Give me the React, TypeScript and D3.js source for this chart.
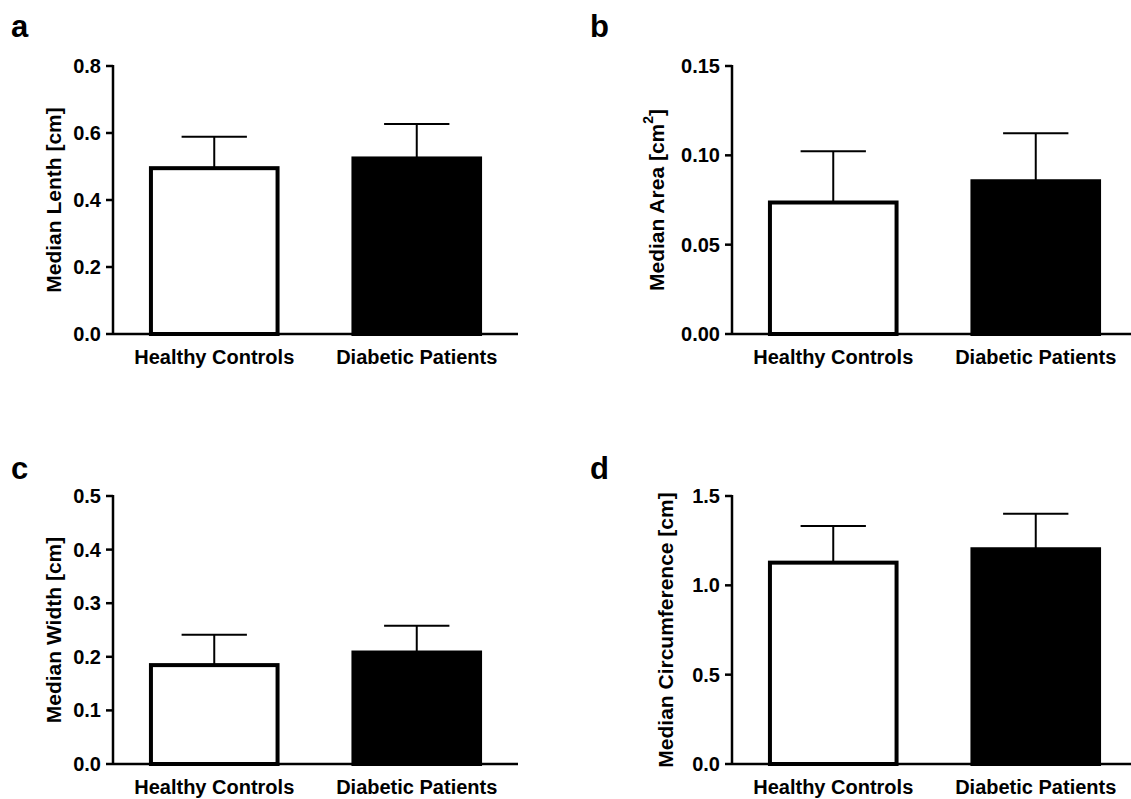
import React from 'react'
import * as d3 from 'd3'

// groups on the x axis
const categories = ['Healthy Controls', 'Diabetic Patients']

// medians and upper error (SD) per panel
const lengthMedian = [0.495, 0.524]
const lengthError = [0.094, 0.103]
const areaMedian = [0.0736, 0.0855]
const areaError = [0.0287, 0.0269]
const widthMedian = [0.1845, 0.208]
const widthError = [0.0565, 0.05]
const circMedian = [1.127, 1.202]
const circError = [0.205, 0.199]

// y ticks
const lengthTicks = [0, 0.2, 0.4, 0.6, 0.8]
const areaTicks = [0, 0.05, 0.1, 0.15]
const widthTicks = [0, 0.1, 0.2, 0.3, 0.4, 0.5]
const circTicks = [0, 0.5, 1.0, 1.5]

const FONT = '"Liberation Sans", Arial, Helvetica, sans-serif'

type PanelProps = {
  letter: string
  letterX: number
  letterY: number
  ox: number
  oy: number
  medians: number[]
  errors: number[]
  ticks: number[]
  fmt: string
  title: React.ReactNode
  titleOffset: number
}

const Panel = ({letter, letterX, letterY, ox, oy, medians, errors, ticks, fmt, title, titleOffset}: PanelProps) => {
  // helper sizes
  const left = ox + 113
  const right = ox + 518
  const top = oy + 66
  const bottom = oy + 334

  const y = d3
    .scaleLinear()
    .domain([0, ticks[ticks.length - 1]])
    .range([bottom, top])
  const x = d3
    .scalePoint<string>()
    .domain(categories)
    .range([left, right])
    .padding(0.5)
  const barW = x.step() * 0.645
  const format = d3.format(fmt)

  return (
    <g>
      <text x={letterX} y={letterY} fontSize={31} fontWeight="bold" fontFamily={FONT}>
        {letter}
      </text>

      {/* bars */}
      {categories.map((c, i) => {
        const cx = x(c) as number
        const yTop = y(medians[i])
        const yErr = y(medians[i] + errors[i])
        const filled = i === 1
        return (
          <g key={c}>
            <line x1={cx} x2={cx} y1={yTop} y2={yErr} stroke="#000" strokeWidth={2} />
            <line
              x1={cx - barW / 4}
              x2={cx + barW / 4}
              y1={yErr}
              y2={yErr}
              stroke="#000"
              strokeWidth={2}
            />
            <rect
              x={cx - barW / 2 + 2}
              y={yTop}
              width={barW - 4}
              height={bottom - yTop}
              fill={filled ? '#000' : '#fff'}
              stroke="#000"
              strokeWidth={4}
            />
          </g>
        )
      })}

      {/* y axis */}
      <line x1={left} x2={left} y1={top - 1} y2={bottom} stroke="#000" strokeWidth={2.5} />
      {ticks.map(t => (
        <g key={t}>
          <line x1={left - 7} x2={left} y1={y(t)} y2={y(t)} stroke="#000" strokeWidth={2.5} />
          <text
            x={left - 12}
            y={y(t)}
            textAnchor="end"
            dominantBaseline="central"
            fontSize={20}
            fontWeight="bold"
            fontFamily={FONT}
          >
            {format(t)}
          </text>
        </g>
      ))}

      {/* x axis */}
      <line x1={left} x2={right} y1={bottom} y2={bottom} stroke="#000" strokeWidth={2.5} />
      {categories.map(c => (
        <text
          key={c}
          x={x(c) as number}
          y={bottom + 30}
          textAnchor="middle"
          fontSize={20}
          fontWeight="bold"
          fontFamily={FONT}
        >
          {c}
        </text>
      ))}

      {/* axis title */}
      <text
        transform={`translate(${left - titleOffset}, ${(top + bottom) / 2}) rotate(-90)`}
        textAnchor="middle"
        dominantBaseline="central"
        fontSize={21}
        fontWeight="bold"
        fontFamily={FONT}
      >
        {title}
      </text>
    </g>
  )
}

export default function App() {
  return (
    <svg
      width={1131}
      height={799}
      style={{position: 'absolute', left: 0, top: 0, background: '#fff'}}
    >
      <rect width={1131} height={799} fill="#fff" />
      <Panel
        letter="a"
        letterX={11}
        letterY={37}
        ox={0}
        oy={0}
        medians={lengthMedian}
        errors={lengthError}
        ticks={lengthTicks}
        fmt=".1f"
        title="Median Lenth [cm]"
        titleOffset={60}
      />
      <Panel
        letter="b"
        letterX={590}
        letterY={37}
        ox={619}
        oy={0}
        medians={areaMedian}
        errors={areaError}
        ticks={areaTicks}
        fmt=".2f"
        title={
          <>
            Median Area [cm
            <tspan dy={-8} fontSize={14}>
              2
            </tspan>
            <tspan dy={8}>]</tspan>
          </>
        }
        titleOffset={76}
      />
      <Panel
        letter="c"
        letterX={11}
        letterY={479}
        ox={0}
        oy={430}
        medians={widthMedian}
        errors={widthError}
        ticks={widthTicks}
        fmt=".1f"
        title="Median Width [cm]"
        titleOffset={60}
      />
      <Panel
        letter="d"
        letterX={590}
        letterY={479}
        ox={619}
        oy={430}
        medians={circMedian}
        errors={circError}
        ticks={circTicks}
        fmt=".1f"
        title="Median Circumference [cm]"
        titleOffset={67}
      />
    </svg>
  )
}
